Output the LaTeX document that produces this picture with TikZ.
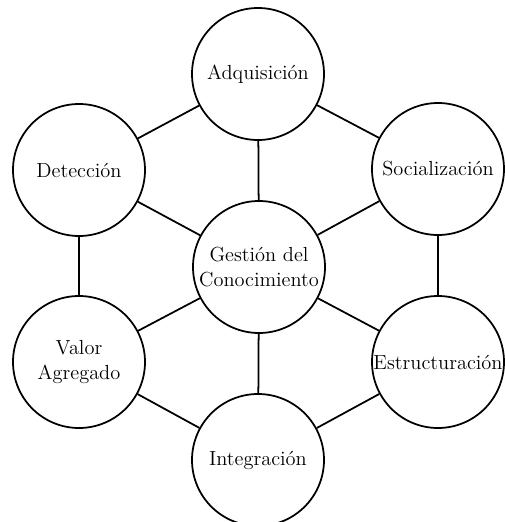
\documentclass[tikz,border=0pt]{standalone}
\usepackage{amssymb, amsmath}
\usepackage{tikz}
\usetikzlibrary{positioning}

\begin{document}
\begin{tikzpicture}[auto]
\tikzstyle{every path}=[line width=1pt];
\tikzstyle{area}=[circle,draw,fill=white,minimum size=2.64cm,inner sep=0pt,align=center,font=\fontsize{11.6}{14.2}\selectfont];
\useasboundingbox (0,0) rectangle (10.1,-10.44);
\node[area] (ges) at (5.18,-5.34) {Gesti\'on del\\Conocimiento};
\node[area] (adq) at (5.16,-1.48) {Adquisici\'on};
\node[area] (soc) at (8.76,-3.38) {Socializaci\'on};
\node[area] (est) at (8.76,-7.24) {Estructuraci\'on};
\node[area] (int) at (5.16,-9.20) {Integraci\'on};
\node[area] (val) at (1.58,-7.24) {Valor\\Agregado};
\node[area] (det) at (1.58,-3.40) {Detecci\'on};
\path (adq) edge (soc);
\path (soc) edge (est);
\path (est) edge (int);
\path (int) edge (val);
\path (val) edge (det);
\path (det) edge (adq);
\path (ges) edge (adq);
\path (ges) edge (soc);
\path (ges) edge (est);
\path (ges) edge (int);
\path (ges) edge (val);
\path (ges) edge (det);
\end{tikzpicture}
\end{document}
